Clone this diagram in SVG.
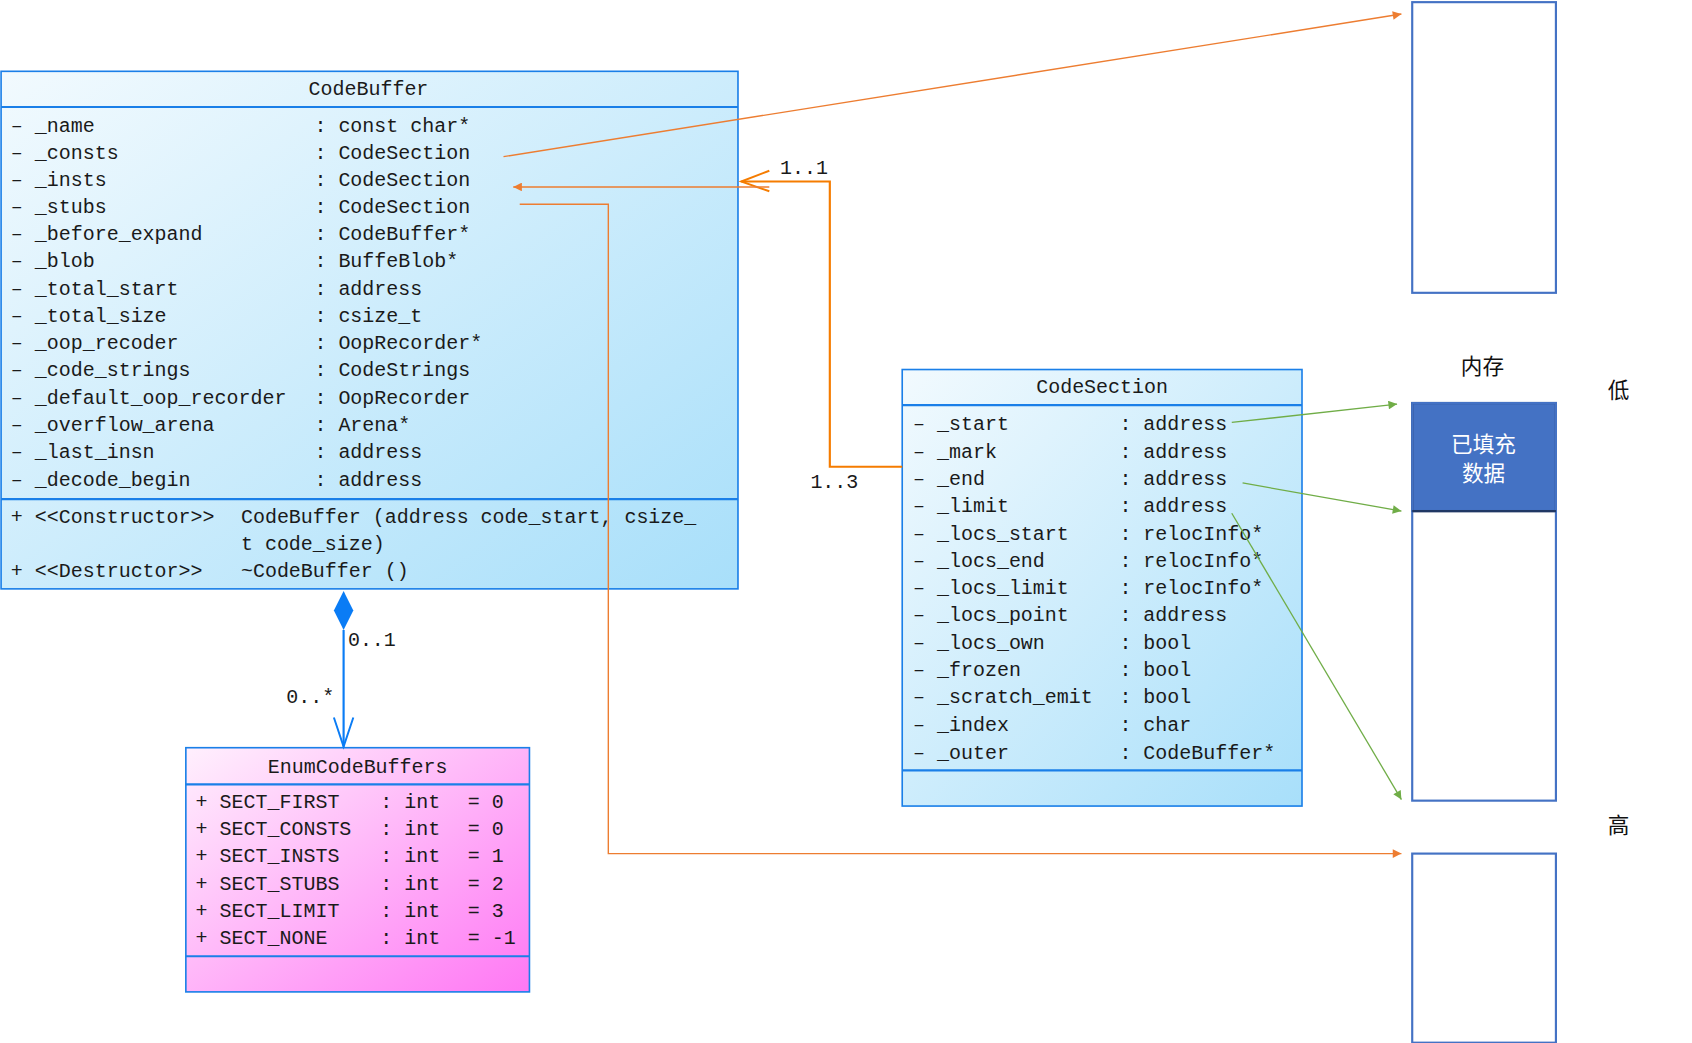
<svg xmlns="http://www.w3.org/2000/svg" width="1692" height="1043" viewBox="0 0 1692 1043">
<defs>
<linearGradient id="gb" x1="0" y1="0" x2="1" y2="1"><stop offset="0" stop-color="#f2fafe"/><stop offset="1" stop-color="#a8dffa"/></linearGradient>
<linearGradient id="gp" x1="0" y1="0" x2="1" y2="1"><stop offset="0" stop-color="#fff0fd"/><stop offset="1" stop-color="#ff78f4"/></linearGradient>
<marker id="ao" viewBox="0 0 10 10" refX="10" refY="5" markerWidth="10" markerHeight="8" orient="auto" markerUnits="userSpaceOnUse"><path d="M0,0 L10,5 L0,10 z" fill="#ed7d31"/></marker>
<marker id="ag" viewBox="0 0 10 10" refX="10" refY="5" markerWidth="10" markerHeight="8" orient="auto" markerUnits="userSpaceOnUse"><path d="M0,0 L10,5 L0,10 z" fill="#70ad47"/></marker>
</defs>
<style>
.t{font-family:"Liberation Mono",monospace;font-size:18.5px;fill:#1a1a1a}
.h{font-family:"Liberation Mono",monospace;font-size:18.5px;fill:#1a1a1a;text-anchor:middle}
.box{stroke:#1a7fe8;stroke-width:1.5}
.sep{stroke:#1a7fe8;stroke-width:2}
.mem{fill:none;stroke:#4472c4;stroke-width:2}
.cj{font-family:"Noto Sans CJK SC",sans-serif;font-size:20px;text-anchor:middle;fill:#111}
.o{fill:none;stroke:#ed7d31;stroke-width:1.3}
.g{fill:none;stroke:#70ad47;stroke-width:1.2}
</style>
<g transform="scale(1.0805)">
<g id="CodeBuffer">
<rect class="box" x="1" y="66" width="682" height="479" fill="url(#gb)"/>
<line class="sep" x1="1" y1="99" x2="683" y2="99"/>
<line class="sep" x1="1" y1="462" x2="683" y2="462"/>
<text class="h" x="341" y="88">CodeBuffer</text>
<g class="t">
<text x="10" y="122">–  _name</text><text x="291" y="122">: const char*</text>
<text x="10" y="147">–  _consts</text><text x="291" y="147">: CodeSection</text>
<text x="10" y="172">–  _insts</text><text x="291" y="172">: CodeSection</text>
<text x="10" y="197">–  _stubs</text><text x="291" y="197">: CodeSection</text>
<text x="10" y="222">–  _before_expand</text><text x="291" y="222">: CodeBuffer*</text>
<text x="10" y="247">–  _blob</text><text x="291" y="247">: BuffeBlob*</text>
<text x="10" y="273">–  _total_start</text><text x="291" y="273">: address</text>
<text x="10" y="298">–  _total_size</text><text x="291" y="298">: csize_t</text>
<text x="10" y="323">–  _oop_recoder</text><text x="291" y="323">: OopRecorder*</text>
<text x="10" y="348">–  _code_strings</text><text x="291" y="348">: CodeStrings</text>
<text x="10" y="374">–  _default_oop_recorder</text><text x="291" y="374">: OopRecorder</text>
<text x="10" y="399">–  _overflow_arena</text><text x="291" y="399">: Arena*</text>
<text x="10" y="424">–  _last_insn</text><text x="291" y="424">: address</text>
<text x="10" y="450">–  _decode_begin</text><text x="291" y="450">: address</text>
<text x="10" y="484">+  &lt;&lt;Constructor&gt;&gt;</text><text x="223" y="484">CodeBuffer (address code_start, csize_</text>
<text x="223" y="509">t code_size)</text>
<text x="10" y="534">+  &lt;&lt;Destructor&gt;&gt;</text><text x="223" y="534">~CodeBuffer ()</text>
</g>
</g>
<g id="CodeSection">
<rect class="box" x="835" y="342" width="370" height="404" fill="url(#gb)"/>
<line class="sep" x1="835" y1="375" x2="1205" y2="375"/>
<line class="sep" x1="835" y1="713" x2="1205" y2="713"/>
<text class="h" x="1020" y="364">CodeSection</text>
<g class="t">
<text x="845" y="398">–  _start</text><text x="1036" y="398">: address</text>
<text x="845" y="424">–  _mark</text><text x="1036" y="424">: address</text>
<text x="845" y="449">–  _end</text><text x="1036" y="449">: address</text>
<text x="845" y="474">–  _limit</text><text x="1036" y="474">: address</text>
<text x="845" y="500">–  _locs_start</text><text x="1036" y="500">: relocInfo*</text>
<text x="845" y="525">–  _locs_end</text><text x="1036" y="525">: relocInfo*</text>
<text x="845" y="550">–  _locs_limit</text><text x="1036" y="550">: relocInfo*</text>
<text x="845" y="575">–  _locs_point</text><text x="1036" y="575">: address</text>
<text x="845" y="601">–  _locs_own</text><text x="1036" y="601">: bool</text>
<text x="845" y="626">–  _frozen</text><text x="1036" y="626">: bool</text>
<text x="845" y="651">–  _scratch_emit</text><text x="1036" y="651">: bool</text>
<text x="845" y="677">–  _index</text><text x="1036" y="677">: char</text>
<text x="845" y="702">–  _outer</text><text x="1036" y="702">: CodeBuffer*</text>
</g>
</g>
<g id="EnumCodeBuffers">
<rect class="box" x="172" y="692" width="318" height="226" fill="url(#gp)"/>
<line class="sep" x1="172" y1="726" x2="490" y2="726"/>
<line class="sep" x1="172" y1="885" x2="490" y2="885"/>
<text class="h" x="331" y="715">EnumCodeBuffers</text>
<g class="t">
<text x="181" y="748">+ SECT_FIRST</text><text x="352" y="748">: int</text><text x="433" y="748">= 0</text>
<text x="181" y="773">+ SECT_CONSTS</text><text x="352" y="773">: int</text><text x="433" y="773">= 0</text>
<text x="181" y="798">+ SECT_INSTS</text><text x="352" y="798">: int</text><text x="433" y="798">= 1</text>
<text x="181" y="824">+ SECT_STUBS</text><text x="352" y="824">: int</text><text x="433" y="824">= 2</text>
<text x="181" y="849">+ SECT_LIMIT</text><text x="352" y="849">: int</text><text x="433" y="849">= 3</text>
<text x="181" y="874">+ SECT_NONE</text><text x="352" y="874">: int</text><text x="433" y="874">= -1</text>
</g>
</g>
<g id="memory">
<rect class="mem" x="1307" y="2" width="133" height="269"/>
<rect x="1307" y="373" width="133" height="100" fill="#4472c4" stroke="#203864" stroke-width="2"/>
<rect class="mem" x="1307" y="373" width="133" height="368"/>
<line x1="1307" y1="473" x2="1440" y2="473" stroke="#203864" stroke-width="2"/>
<rect class="mem" x="1307" y="790" width="133" height="175"/>
<text class="cj" x="1373" y="418" fill="#fff" style="fill:#fff">已填充</text>
<text class="cj" x="1373" y="445" style="fill:#fff">数据</text>
<text class="cj" x="1372" y="346">内存</text>
<text class="cj" x="1498" y="368">低</text>
<text class="cj" x="1498" y="771">高</text>
</g>
<g id="connectors">
<path class="o" d="M466,145 L1297,13" marker-end="url(#ao)"/>
<path d="M835,432 H768 V168 H686" fill="none" stroke="#f57c00" stroke-width="2"/>
<path d="M712,158 L686,168 L712,177" fill="none" stroke="#f57c00" stroke-width="1.8"/>
<path class="o" d="M712,173 H475" marker-end="url(#ao)"/>
<path class="o" d="M481,189 H563 V790 H1297" marker-end="url(#ao)"/>
<path class="g" d="M1140,391 L1293,374" marker-end="url(#ag)"/>
<path class="g" d="M1150,447 L1297,473" marker-end="url(#ag)"/>
<path class="g" d="M1140,475 L1297,740" marker-end="url(#ag)"/>
<path d="M318,547 L327,565 L318,583 L309,565 Z" fill="#0a7cf5"/>
<path d="M318,583 V691" stroke="#0a7cf5" stroke-width="2" fill="none"/>
<path d="M309,664 L318,691 L327,664" stroke="#0a7cf5" stroke-width="1.8" fill="none"/>
<g class="t">
<text x="722" y="161">1..1</text>
<text x="750" y="452">1..3</text>
<text x="322" y="598">0..1</text>
<text x="265" y="651">0..*</text>
</g>
</g>
</g>
</svg>
